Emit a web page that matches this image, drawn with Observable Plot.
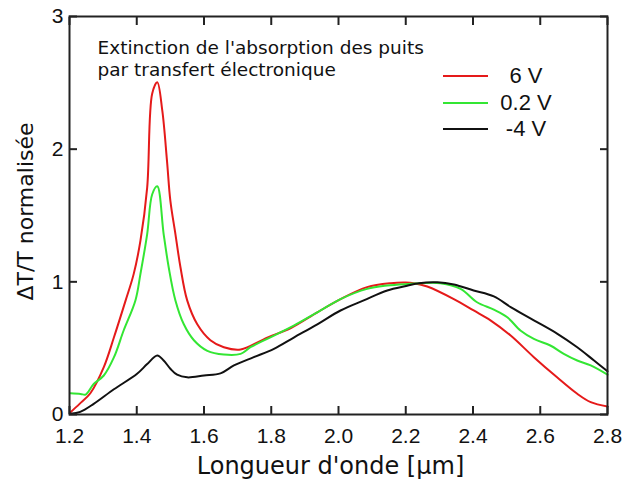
<!DOCTYPE html>
<html>
<head>
<meta charset="utf-8">
<script src="https://cdn.jsdelivr.net/npm/d3@7"></script>
<script src="https://cdn.jsdelivr.net/npm/@observablehq/plot@0.6"></script>
<style>
  html, body { margin: 0; padding: 0; background: #fff; }
  #wrap { position: relative; width: 625px; height: 479px; }
  .leg { position: absolute; font-family: "Liberation Sans", Arial, sans-serif; font-size: 22px; color: #111; }
  .sw { position: absolute; height: 2px; width: 45px; left: 443px; }
  .lab { position: absolute; width: 70px; left: 491px; text-align: center; line-height: 22px; }
</style>
</head>
<body>
<div id="wrap"></div>
<script>
const xTicks = [1.2, 1.4, 1.6, 1.8, 2.0, 2.2, 2.4, 2.6, 2.8];
const yTicks = [0, 1, 2, 3];
const seriesNames = ["6 V", "0.2 V", "-4 V"];
const seriesColors = ["#e51a1a", "#33e633", "#111111"];

const red_x = [1.203,1.23,1.262,1.302,1.332,1.367,1.391,1.411,1.431,1.446,1.461,1.476,1.49,1.50,1.515,1.53,1.55,1.58,1.619,1.659,1.709,1.788,1.857,1.937,2.006,2.085,2.155,2.200,2.224,2.264,2.343,2.402,2.452,2.512,2.581,2.65,2.71,2.75,2.80];
const red_y = [0.017,0.08,0.16,0.357,0.58,0.86,1.06,1.31,1.71,2.42,2.505,2.29,1.91,1.61,1.36,1.11,0.86,0.68,0.56,0.507,0.49,0.58,0.65,0.77,0.87,0.96,0.99,0.995,0.99,0.965,0.87,0.784,0.71,0.595,0.432,0.28,0.156,0.093,0.06];

const green_x = [1.203,1.233,1.248,1.272,1.302,1.332,1.361,1.396,1.411,1.431,1.446,1.461,1.48,1.495,1.515,1.54,1.57,1.61,1.659,1.709,1.738,1.788,1.867,1.937,2.006,2.085,2.145,2.214,2.244,2.303,2.363,2.412,2.462,2.502,2.541,2.581,2.63,2.67,2.71,2.75,2.80];
const green_y = [0.16,0.155,0.15,0.23,0.294,0.43,0.633,0.86,1.06,1.36,1.66,1.72,1.36,1.11,0.86,0.68,0.56,0.48,0.452,0.457,0.507,0.57,0.67,0.77,0.87,0.947,0.972,0.985,0.99,0.99,0.947,0.846,0.79,0.733,0.633,0.57,0.52,0.457,0.407,0.37,0.30];

const black_x = [1.203,1.232,1.272,1.332,1.401,1.431,1.461,1.48,1.50,1.52,1.55,1.60,1.649,1.689,1.748,1.808,1.867,1.937,2.006,2.075,2.145,2.204,2.239,2.294,2.343,2.402,2.462,2.512,2.581,2.65,2.71,2.76,2.80];
const black_y = [0.005,0.02,0.08,0.19,0.307,0.38,0.445,0.407,0.345,0.30,0.28,0.294,0.31,0.37,0.432,0.495,0.58,0.68,0.784,0.86,0.935,0.97,0.99,0.997,0.98,0.935,0.89,0.81,0.71,0.61,0.507,0.407,0.326];

const annotation = "Extinction de l'absorption des puits\npar transfert électronique";
const xLabel = "Longueur d'onde [µm]";
const yLabel = "ΔT/T normalisée";

const toRows = (xs, ys, s) => xs.map((x, i) => ({x, y: ys[i], s}));
const rows = [
  ...toRows(red_x, red_y, seriesNames[0]),
  ...toRows(green_x, green_y, seriesNames[1]),
  ...toRows(black_x, black_y, seriesNames[2])
];

const axisFont = {fontFamily: "'Liberation Sans', Arial, sans-serif", fontSize: 21};

const chart = Plot.plot({
  width: 625,
  height: 479,
  marginLeft: 69,
  marginRight: 18,
  marginTop: 16,
  marginBottom: 65,
  style: {background: "#fff", color: "#111"},
  x: {domain: [1.2, 2.8]},
  y: {domain: [0, 3]},
  color: {domain: seriesNames, range: seriesColors},
  marks: [
    Plot.line(rows, {x: "x", y: "y", z: "s", stroke: "s", strokeWidth: 2, curve: "catmull-rom"}),
    Plot.axisX({ticks: xTicks, tickSize: -8, tickPadding: 22, tickFormat: d3.format(".1f"), ...axisFont, stroke: "#222", strokeWidth: 2, label: null}),
    Plot.axisX({anchor: "top", ticks: xTicks, tickSize: -8, tickFormat: () => "", stroke: "#222", strokeWidth: 2, label: null}),
    Plot.axisY({ticks: yTicks, tickSize: -8, tickPadding: 14, tickFormat: d3.format("d"), ...axisFont, stroke: "#222", strokeWidth: 2, label: null}),
    Plot.axisY({anchor: "right", ticks: yTicks, tickSize: -8, tickFormat: () => "", stroke: "#222", strokeWidth: 2, label: null}),
    Plot.frame({stroke: "#222", strokeWidth: 2}),
    Plot.text([annotation], {frameAnchor: "top-left", dx: 28, dy: 22, lineAnchor: "top", textAnchor: "start", fontSize: 18.5, lineHeight: 1.2, fontFamily: "'DejaVu Sans', sans-serif", fill: "#111"}),
    Plot.text([xLabel], {frameAnchor: "bottom", dx: -8, dy: 42, lineAnchor: "top", textAnchor: "middle", fontSize: 24, fontFamily: "'DejaVu Sans', sans-serif", fill: "#111"}),
    Plot.text([yLabel], {frameAnchor: "left", dx: -44, dy: -4, rotate: -90, textAnchor: "middle", fontSize: 22, fontFamily: "'DejaVu Sans', sans-serif", fill: "#111"})
  ]
});

const wrap = document.getElementById("wrap");
wrap.appendChild(chart);

const legendY = [76, 103, 129];
seriesNames.forEach((name, i) => {
  const sw = document.createElement("div");
  sw.className = "leg sw";
  sw.style.top = (legendY[i] - 1) + "px";
  sw.style.background = seriesColors[i];
  wrap.appendChild(sw);
  const lab = document.createElement("div");
  lab.className = "leg lab";
  lab.style.top = (legendY[i] - 11) + "px";
  lab.textContent = name;
  wrap.appendChild(lab);
});
</script>
</body>
</html>
